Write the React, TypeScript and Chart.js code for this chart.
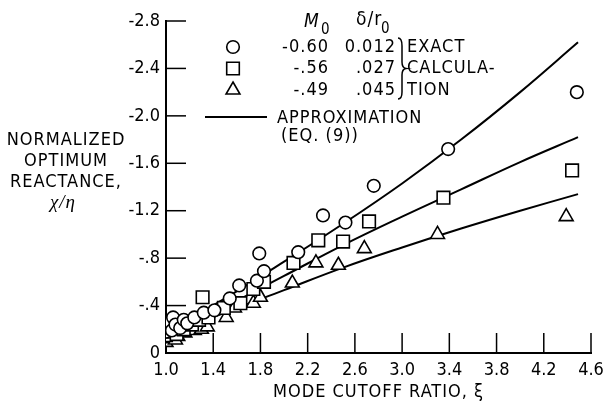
import React, { useEffect, useRef } from 'react';
import { Chart, registerables } from 'chart.js';

Chart.register(...registerables);

// ---- data ----
const circleX = [1.0, 1.01, 1.03, 1.05, 1.06, 1.08, 1.12, 1.15, 1.18, 1.24, 1.32, 1.41, 1.54, 1.62, 1.77, 1.83, 1.79, 2.12, 2.33, 2.52, 2.76, 3.39, 4.48];
const circleY = [-0.18, -0.22, -0.26, -0.19, -0.3, -0.24, -0.21, -0.28, -0.25, -0.3, -0.34, -0.36, -0.46, -0.57, -0.61, -0.69, -0.84, -0.85, -1.16, -1.1, -1.41, -1.72, -2.2];

const squareX = [1.0, 1.02, 1.05, 1.09, 1.12, 1.15, 1.22, 1.28, 1.31, 1.36, 1.49, 1.63, 1.74, 1.83, 2.08, 2.29, 2.5, 2.72, 3.35, 4.44];
const squareY = [-0.15, -0.18, -0.22, -0.16, -0.26, -0.2, -0.24, -0.28, -0.47, -0.3, -0.38, -0.42, -0.54, -0.6, -0.76, -0.95, -0.94, -1.11, -1.31, -1.54];

const triangleX = [1.0, 1.02, 1.05, 1.08, 1.1, 1.16, 1.24, 1.3, 1.35, 1.51, 1.58, 1.74, 1.8, 2.07, 2.27, 2.46, 2.68, 3.3, 4.39];
const triangleY = [-0.09, -0.12, -0.15, -0.11, -0.14, -0.17, -0.19, -0.2, -0.22, -0.3, -0.38, -0.42, -0.47, -0.59, -0.76, -0.74, -0.88, -1.0, -1.15];

const lineX = [1.0, 1.5, 2.0, 2.5, 3.0, 3.5, 4.0, 4.49];
const approxA = [-0.17, -0.46, -0.77, -1.09, -1.43, -1.8, -2.2, -2.62];
const approxB = [-0.15, -0.39, -0.65, -0.91, -1.15, -1.38, -1.61, -1.82];
const approxC = [-0.14, -0.34, -0.53, -0.72, -0.89, -1.05, -1.2, -1.34];

const xMin = 1.0, xMax = 4.6, xStep = 0.4;
const yMin = -2.8, yMax = 0, yStep = 0.4;

const legendM0 = ['-0.60', '-.56', '-.49'];
const legendDelta = ['0.012', '.027', '.045'];
const legendNote = ['EXACT', 'CALCULA-', 'TION'];
const yTitle = ['NORMALIZED', 'OPTIMUM', 'REACTANCE,'];
const xTitle = 'MODE CUTOFF RATIO, ξ';

const FONT = "'Liberation Sans Narrow', 'DejaVu Sans Condensed', 'Arial Narrow', sans-serif";

const pts = (xs: number[], ys: number[]) => xs.map((x, i) => ({ x, y: ys[i] }));

function fmtY(v: number): string {
  const r = Math.round(v * 10) / 10;
  if (r === 0) return '0';
  const a = Math.abs(r);
  return a >= 1 ? '-' + a.toFixed(1) : '-' + a.toFixed(1).replace(/^0/, '');
}

function drawMarker(ctx: CanvasRenderingContext2D, kind: string, x: number, y: number) {
  ctx.save();
  ctx.fillStyle = '#fff';
  ctx.strokeStyle = '#000';
  ctx.lineWidth = 1.6;
  ctx.beginPath();
  if (kind === 'circle') {
    ctx.arc(x, y, 6.3, 0, Math.PI * 2);
  } else if (kind === 'rect') {
    ctx.rect(x - 6.3, y - 6.3, 12.6, 12.6);
  } else {
    const r = 8;
    for (let i = 0; i < 3; i++) {
      const a = -Math.PI / 2 + (i * 2 * Math.PI) / 3;
      const px = x + Math.cos(a) * r, py = y + Math.sin(a) * r;
      if (i === 0) ctx.moveTo(px, py); else ctx.lineTo(px, py);
    }
    ctx.closePath();
  }
  ctx.fill();
  ctx.stroke();
  ctx.restore();
}

const decor = {
  id: 'decor',
  afterDraw(chart: any) {
    const { ctx, chartArea } = chart;
    const xs = chart.scales.x, ys = chart.scales.y;
    ctx.save();
    ctx.strokeStyle = '#000';
    ctx.lineWidth = 1.5;
    // inward tick marks
    ys.ticks.forEach((t: any) => {
      if (Math.abs(t.value) < 1e-9) return;
      const py = ys.getPixelForValue(t.value);
      ctx.beginPath(); ctx.moveTo(chartArea.left, py); ctx.lineTo(chartArea.left + 20, py); ctx.stroke();
    });
    xs.ticks.forEach((t: any) => {
      if (Math.abs(t.value - xMin) < 1e-9) return;
      const px = xs.getPixelForValue(t.value);
      ctx.beginPath(); ctx.moveTo(px, chartArea.bottom); ctx.lineTo(px, chartArea.bottom - 20); ctx.stroke();
    });

    ctx.fillStyle = '#000';
    (ctx as any).letterSpacing = '1px';
    // y title
    ctx.textAlign = 'center';
    ctx.textBaseline = 'middle';
    ctx.font = `18px ${FONT}`;
    const yl = [140, 161, 182];
    yTitle.forEach((s, i) => ctx.fillText(s, 66, yl[i]));
    ctx.font = "italic 19px 'Liberation Serif', serif";
    ctx.fillText('χ/η', 63, 203);
    // x title
    ctx.font = `18px ${FONT}`;
    ctx.fillText(xTitle, (chartArea.left + chartArea.right) / 2, 392);

    // legend header
    ctx.textAlign = 'left';
    ctx.font = `italic 19px ${FONT}`;
    ctx.fillText('M', 304, 22);
    ctx.font = `15px ${FONT}`;
    ctx.fillText('0', 321, 30);
    ctx.font = `19px ${FONT}`;
    ctx.fillText('δ/r', 356, 20);
    ctx.font = `15px ${FONT}`;
    ctx.fillText('0', 381, 29);

    const rows = [47, 68.5, 90];
    const kinds = ['circle', 'rect', 'triangle'];
    ctx.font = `18px ${FONT}`;
    rows.forEach((ry, i) => {
      drawMarker(ctx, kinds[i], 233, ry);
      ctx.textAlign = 'right';
      ctx.fillText(legendM0[i], 329, ry);
      ctx.fillText(legendDelta[i], 396, ry);
      ctx.textAlign = 'left';
      ctx.fillText(legendNote[i], 407, ry);
    });
    // brace
    ctx.lineWidth = 1.5;
    ctx.beginPath();
    ctx.moveTo(398, 38);
    ctx.quadraticCurveTo(402, 38, 402, 46);
    ctx.lineTo(402, 62);
    ctx.quadraticCurveTo(402, 68, 406, 68.5);
    ctx.quadraticCurveTo(402, 69, 402, 75);
    ctx.lineTo(402, 92);
    ctx.quadraticCurveTo(402, 99, 398, 99);
    ctx.stroke();

    // approximation entry
    ctx.lineWidth = 2;
    ctx.beginPath(); ctx.moveTo(205, 117); ctx.lineTo(267, 117); ctx.stroke();
    ctx.textAlign = 'left';
    ctx.fillText('APPROXIMATION', 277, 118);
    ctx.fillText('(EQ. (9))', 281, 136);
    ctx.restore();
  },
};

export default function App() {
  const ref = useRef<HTMLCanvasElement>(null);
  useEffect(() => {
    if (!ref.current) return;
    const lineDs = (data: number[]) => ({
      type: 'line' as const,
      data: pts(lineX, data),
      borderColor: '#000',
      borderWidth: 2,
      pointRadius: 0,
      fill: false,
      tension: 0.4,
      order: 2,
    });
    const ptDs = (xs: number[], ys: number[], style: string, r: number) => ({
      type: 'scatter' as const,
      data: pts(xs, ys),
      pointStyle: style,
      pointRadius: r,
      backgroundColor: '#fff',
      borderColor: '#000',
      borderWidth: 1.6,
      order: 1,
    });
    const chart = new Chart(ref.current, {
      type: 'scatter',
      data: {
        datasets: [
          lineDs(approxA),
          lineDs(approxB),
          lineDs(approxC),
          ptDs(circleX, circleY, 'circle', 6.3),
          ptDs(squareX, squareY, 'rect', 8.9),
          ptDs(triangleX, triangleY, 'triangle', 8),
        ] as any,
      },
      options: {
        animation: false,
        responsive: false,
        devicePixelRatio: 1,
        layout: { padding: { top: 21, right: 25, left: 0, bottom: 0 } },
        plugins: { legend: { display: false }, tooltip: { enabled: false } },
        scales: {
          x: {
            type: 'linear',
            min: xMin,
            max: xMax,
            ticks: {
              stepSize: xStep,
              color: '#000',
              font: { family: FONT, size: 18 },
              padding: 7,
              callback: (v: any) => Number(v).toFixed(1),
            },
            grid: { display: true, drawOnChartArea: false, drawTicks: false },
            border: { display: true, color: '#000', width: 2 },
            afterFit: (s: any) => { s.height = 51; },
          },
          y: {
            type: 'linear',
            min: yMin,
            max: yMax,
            reverse: true,
            ticks: {
              stepSize: yStep,
              color: '#000',
              font: { family: FONT, size: 18 },
              padding: 6,
              callback: (v: any) => fmtY(Number(v)),
            },
            grid: { display: true, drawOnChartArea: false, drawTicks: false },
            border: { display: true, color: '#000', width: 2 },
            afterFit: (s: any) => { s.width = 166; },
          },
        },
      },
      plugins: [decor],
    });
    return () => chart.destroy();
  }, []);
  return (
    <div style={{ position: 'absolute', left: 0, top: 0, width: 616, height: 404, background: '#fff' }}>
      <canvas ref={ref} width={616} height={404} />
    </div>
  );
}
